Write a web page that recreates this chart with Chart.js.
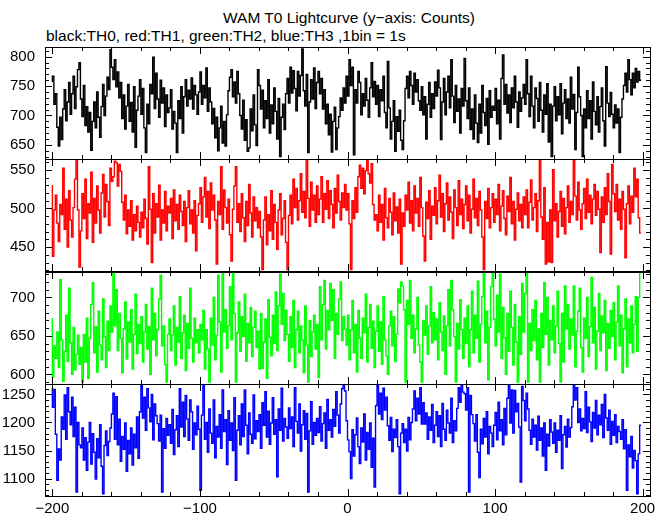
<!DOCTYPE html>
<html><head><meta charset="utf-8">
<script src="https://cdn.jsdelivr.net/npm/chart.js@4"></script>
<style>
html,body{margin:0;padding:0;background:#fff;}
body{width:669px;height:515px;position:relative;overflow:hidden;font-family:"Liberation Sans",Arial,Helvetica,sans-serif;}
.t{position:absolute;font-size:15.5px;line-height:18px;color:#000;white-space:nowrap;}
canvas{position:absolute;left:0;}
</style></head><body>
<div class="t" style="left:0;width:698px;text-align:center;top:9px">WAM T0 Lightcurve (y−axis: Counts)</div>
<div class="t" style="left:46px;top:27px">black:TH0, red:TH1, green:TH2, blue:TH3 ,1bin = 1s</div>
<script>
// time axis: 1 bin = 1 s, bins start at -200 s
const timeStart = -200, binCount = 400;
const timeBins = Array.from({length: binCount}, (_, i) => timeStart + i);

// TH0 (black) counts per bin
const th0 = [
757,767,719,737,680,648,697,659,711,744,691,723,756,702,737,767,712,749,778,790,
728,698,751,683,715,672,705,641,690,723,679,740,697,663,715,753,700,733,765,744,
812,782,761,795,749,774,730,756,695,735,677,716,753,690,722,672,749,646,709,733,
761,702,746,679,637,719,686,753,737,799,712,772,728,697,760,721,747,681,735,705,
713,744,677,707,687,637,725,695,749,670,732,761,716,743,728,764,711,751,735,702,
740,774,719,751,730,781,707,747,723,686,712,662,697,640,679,716,653,690,648,701,
742,765,778,732,757,721,775,737,700,677,726,658,693,639,645,711,674,735,684,649,
778,751,711,743,679,725,695,761,670,718,686,747,707,660,729,630,697,719,676,737,
763,721,782,738,776,746,708,775,733,768,813,742,716,770,637,723,761,728,781,712,
756,775,737,763,711,744,686,719,667,702,638,690,714,642,679,698,730,709,747,721,
767,733,795,751,782,633,744,721,775,756,701,737,716,763,726,697,747,790,732,758,
719,751,698,744,725,767,705,679,792,713,660,690,725,639,698,673,709,658,642,691,
746,767,730,775,751,719,772,740,761,725,709,749,701,732,660,719,756,697,737,712,
757,733,777,747,659,723,763,701,740,767,713,795,733,688,751,707,728,670,746,716,
797,725,695,747,676,711,660,735,687,654,719,670,751,705,683,729,651,742,697,716,
709,746,686,726,660,763,803,719,753,704,735,688,747,713,767,723,680,740,707,730,
753,719,795,737,698,767,716,679,747,729,690,756,709,672,735,702,754,655,719,630,
716,749,691,732,701,754,669,721,744,695,728,687,765,711,736,642,705,782,732,700,
630,711,679,742,695,725,660,757,707,684,732,672,715,747,691,648,783,721,698,739,
702,679,718,687,711,637,697,728,751,772,740,795,761,735,772,747,780,757,775,760];

// TH1 (red)
const th1 = [
530,438,498,517,481,457,505,492,552,473,512,450,523,485,463,501,538,563,498,424,
471,519,487,538,461,506,494,547,456,513,481,529,498,468,520,544,489,531,509,478,
552,535,541,561,559,529,557,548,508,485,517,467,498,477,510,459,492,471,503,482,
463,495,475,512,487,454,554,499,430,519,468,506,489,530,459,498,481,522,471,503,
494,513,461,524,484,505,473,517,496,478,509,457,501,523,480,498,468,510,445,491,
506,527,482,515,540,489,522,474,533,498,517,485,428,509,492,554,473,524,501,481,
512,466,432,499,529,554,482,506,470,519,488,457,509,478,531,494,463,515,484,501,
475,496,463,421,485,515,453,492,471,523,460,505,482,447,498,519,466,487,510,456,
421,491,517,480,538,501,526,485,510,545,495,522,488,563,513,477,534,498,517,482,
529,492,512,541,482,519,499,536,487,523,505,475,526,494,543,509,485,520,501,531,
498,519,480,421,510,487,527,495,541,556,526,552,519,549,563,545,533,558,505,485,
492,471,517,482,505,459,526,488,475,513,495,466,520,484,502,468,512,428,494,477,
517,498,534,481,510,471,529,494,513,477,540,501,464,432,508,487,523,460,503,491,
527,480,510,543,489,519,470,506,533,485,515,495,461,524,501,478,536,492,512,474,
505,529,484,517,468,499,538,488,513,478,522,498,463,421,509,487,526,475,501,519,
482,512,492,531,471,503,523,487,466,516,496,540,480,509,459,499,520,484,505,475,
515,492,524,475,508,537,485,501,519,470,510,563,489,460,527,428,482,431,498,430,
550,484,506,463,496,522,477,513,467,501,529,482,509,492,563,516,485,534,498,473,
506,526,487,538,495,517,480,512,531,491,522,499,443,515,482,527,492,545,509,441,
557,519,496,531,485,512,473,522,499,436,506,529,480,516,495,552,515,538,488,468];

// TH2 (green)
const th2 = [
673,597,637,621,655,609,723,645,591,630,677,617,712,641,600,661,606,626,651,613,
635,590,652,616,673,595,647,691,719,628,662,603,682,638,619,698,649,609,669,631,
689,655,732,663,710,631,679,647,602,659,694,620,668,642,684,607,652,704,627,665,
640,675,616,655,691,633,662,600,712,645,679,624,658,698,729,637,663,613,590,652,
672,631,651,689,612,661,642,701,621,654,677,605,666,634,712,647,616,673,641,658,
628,665,645,683,607,658,633,590,673,638,700,619,651,729,668,603,733,655,684,634,
663,714,645,733,679,590,654,694,630,675,649,704,617,666,641,687,623,661,682,635,
656,607,679,608,642,672,595,697,648,624,677,640,707,631,689,730,665,705,644,683,
652,617,675,635,696,609,658,682,628,663,645,602,689,638,590,670,623,655,677,633,
665,596,714,645,691,722,633,683,658,718,670,710,621,679,652,698,720,644,675,659,
638,677,619,658,696,628,665,603,683,647,621,673,654,704,616,661,691,634,669,609,
656,689,630,668,613,701,645,624,600,663,682,637,675,617,652,711,693,720,715,684,
590,696,665,722,647,677,628,659,700,638,616,590,670,651,689,626,663,714,641,680,
645,672,619,693,655,631,676,600,663,710,637,722,684,649,590,666,633,697,658,621,
673,640,689,610,658,708,628,677,647,721,616,665,701,733,641,682,593,661,714,733,
672,637,703,655,730,621,687,648,600,679,630,708,661,612,691,642,590,675,626,718,
655,705,733,590,666,631,684,644,696,619,659,590,679,635,719,652,700,612,670,645,
689,628,663,708,640,590,679,616,715,659,691,633,672,651,715,610,656,682,712,635,
603,673,647,700,623,662,726,641,687,607,656,705,631,676,654,696,605,666,634,683,
649,693,619,668,715,637,677,602,659,698,610,672,641,689,628,665,701,630,700,733];

// TH3 (blue)
const th3 = [
1262,1227,1259,1179,1097,1153,1133,1210,1188,1249,1170,1262,1219,1196,1245,1175,1227,1076,1200,1160,
1155,1190,1133,1173,1115,1165,1200,1126,1180,1147,1099,1171,1137,1196,1122,1073,1159,1185,1141,1166,
1190,1215,1252,1170,1246,1160,1206,1131,1175,1152,1199,1113,1168,1144,1190,1124,1179,1155,1210,1136,
1219,1268,1208,1245,1186,1260,1226,1201,1250,1169,1233,1212,1198,1167,1213,1076,1189,1154,1207,1177,
1196,1163,1223,1143,1187,1212,1157,1260,1192,1236,1175,1248,1206,1168,1240,1219,1152,1199,1178,1229,
1188,1079,1213,1268,1170,1200,1147,1224,1181,1163,1240,1137,1193,1174,1214,1154,1258,1184,1205,1125,
1221,1168,1199,1150,1244,1097,1186,1212,1160,1233,1175,1258,1195,1144,1217,1179,1163,1249,1171,1203,
1184,1214,1154,1235,1195,1255,1174,1220,1161,1199,1244,1179,1205,1103,1224,1186,1261,1167,1207,1192,
1172,1226,1189,1210,1157,1262,1202,1181,1233,1149,1196,1221,1170,1216,1076,1185,1237,1161,1200,1177,
1207,1182,1228,1167,1198,1217,1154,1241,1186,1205,1174,1223,1193,1255,1213,1181,1233,1260,1268,1256,
1203,1169,1148,1100,1187,1140,1178,1208,1157,1127,1190,1165,1215,1133,1182,1152,1199,1120,1172,1085,
1230,1268,1215,1252,1205,1261,1222,1245,1194,1168,1209,1148,1188,1173,1205,1157,1073,1181,1198,1164,
1188,1149,1209,1169,1200,1224,1256,1203,1243,1215,1262,1197,1235,1197,1217,1170,1210,1186,1232,1164,
1195,1219,1175,1212,1157,1234,1188,1168,1222,1199,1181,1243,1164,1203,1185,1225,1262,1236,1268,1254,
1251,1222,1262,1076,1248,1214,1198,1167,1214,1147,1102,1188,1162,1207,1174,1219,1144,1193,1181,1157,
1195,1218,1169,1236,1185,1205,1160,1225,1178,1243,1268,1199,1258,1181,1257,1219,1234,1192,1094,1264,
1239,1203,1252,1224,1186,1161,1206,1174,1195,1151,1211,1168,1190,1140,1199,1115,1179,1158,1205,1183,
1163,1199,1147,1186,1168,1212,1118,1178,1193,1156,1206,1174,1191,1228,1268,1240,1262,1200,1224,1185,
1207,1189,1255,1182,1227,1201,1166,1218,1190,1239,1178,1213,1196,1232,1173,1250,1208,1186,1222,1161,
1202,1177,1214,1164,1193,1184,1170,1205,1153,1187,1079,1160,1139,1175,1119,1150,1132,1073,1144,1195];

// tick labels
const xTickLabels = [-200, -100, 0, 100, 200];
const th0Ticks = [650, 700, 750, 800];
const th1Ticks = [450, 500, 550];
const th2Ticks = [600, 650, 700];
const th3Ticks = [1100, 1150, 1200, 1250];

const X_MIN = -205, X_MAX = 205;
const PAD = 20;
const panels = [
  {values: th0, color: '#000000', min: 626,  max: 816.5,  ticks: th0Ticks, top: 47,  bottom: 159},
  {values: th1, color: '#ff0000', min: 419,  max: 564,    ticks: th1Ticks, top: 159, bottom: 271},
  {values: th2, color: '#00ff00', min: 587.5,max: 733,    ticks: th2Ticks, top: 272, bottom: 384},
  {values: th3, color: '#0000ff', min: 1069, max: 1268.5, ticks: th3Ticks, top: 384, bottom: 496, showX: true}
];

const framePlugin = {
  id: 'frame',
  afterDraw(chart) {
    const {ctx, chartArea: a, scales} = chart;
    const xs = scales.x, ys = scales.y;
    ctx.save();
    ctx.strokeStyle = '#000';
    ctx.lineWidth = 1;
    ctx.strokeRect(a.left + 0.5, a.top + 0.5, a.right - a.left, a.bottom - a.top);
    ctx.beginPath();
    for (let v = -200; v <= 200; v += 20) {
      const px = Math.round(xs.getPixelForValue(v)) + 0.5;
      const len = v % 100 === 0 ? 7 : 4;
      ctx.moveTo(px, a.top); ctx.lineTo(px, a.top + len);
      ctx.moveTo(px, a.bottom); ctx.lineTo(px, a.bottom - len);
    }
    for (let v = Math.ceil(ys.min / 10) * 10; v <= ys.max; v += 10) {
      const py = Math.round(ys.getPixelForValue(v)) + 0.5;
      const len = v % 50 === 0 ? 7 : 4;
      ctx.moveTo(a.left, py); ctx.lineTo(a.left + len, py);
      ctx.moveTo(a.right, py); ctx.lineTo(a.right - len, py);
    }
    ctx.stroke();
    ctx.restore();
  }
};

const font = {family: '"Liberation Sans", Arial, Helvetica, sans-serif', size: 15};

panels.forEach(p => {
  const c = document.createElement('canvas');
  const top = p.top - PAD;
  const h = p.showX ? 515 - top : (p.bottom - p.top) + 2 * PAD;
  c.width = 669; c.height = h;
  c.style.top = top + 'px';
  c.style.width = '669px'; c.style.height = h + 'px';
  document.body.appendChild(c);
  new Chart(c, {
    type: 'line',
    data: {datasets: [{
      data: timeBins.map((t, i) => ({x: t, y: p.values[i]})),
      borderColor: p.color, borderWidth: 1.4, pointRadius: 0,
      stepped: 'after', fill: false, tension: 0
    }]},
    options: {
      responsive: false, animation: false, devicePixelRatio: 1, events: [],
      layout: {padding: {left: 0, right: 19, top: PAD, bottom: p.showX ? 0 : PAD}},
      plugins: {legend: {display: false}, tooltip: {enabled: false}, title: {display: false}},
      scales: {
        x: {
          type: 'linear', min: X_MIN, max: X_MAX, display: !!p.showX,
          grid: {display: false, drawTicks: false}, border: {display: false},
          ticks: {font, color: '#000', padding: 4, maxRotation: 0, autoSkip: false,
                  callback: v => (v < 0 ? '\u2212' + Math.abs(v) : String(v))},
          afterBuildTicks: s => { s.ticks = xTickLabels.map(v => ({value: v})); },
          afterFit: s => { s.height = p.showX ? 19 : 0; s.paddingLeft = 0; s.paddingRight = 0; }
        },
        y: {
          type: 'linear', min: p.min, max: p.max,
          grid: {display: false, drawTicks: false}, border: {display: false},
          ticks: {font, color: '#000', padding: 10, autoSkip: false, callback: v => String(v)},
          afterBuildTicks: s => { s.ticks = p.ticks.map(v => ({value: v})); },
          afterFit: s => { s.width = 45; s.paddingTop = 0; s.paddingBottom = 0; }
        }
      }
    },
    plugins: [framePlugin]
  });
});
</script>
</body></html>
